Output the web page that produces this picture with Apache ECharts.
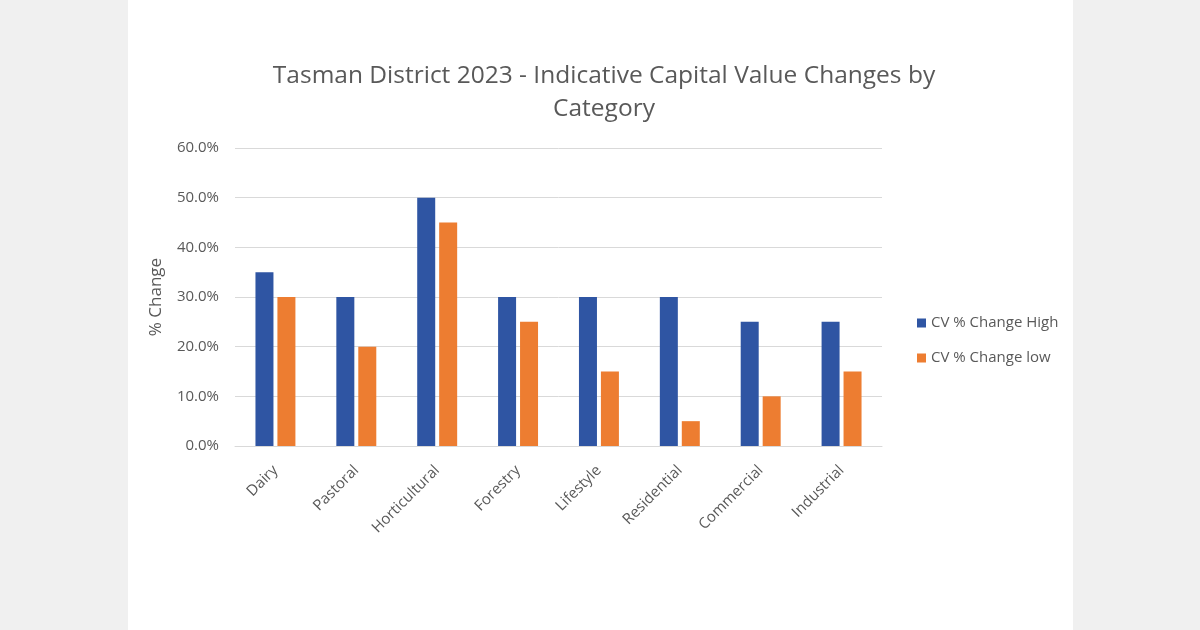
<!DOCTYPE html>
<html><head><meta charset="utf-8">
<script src="https://cdn.jsdelivr.net/npm/echarts@6/dist/echarts.min.js"></script>
<style>html,body{margin:0;padding:0;background:#f0f0f0}#c{width:1200px;height:630px}</style>
</head><body><div id="c"></div>
<script>
const categories = ['Dairy','Pastoral','Horticultural','Forestry','Lifestyle','Residential','Commercial','Industrial'];
const cvHigh = [35,30,50,30,30,30,25,25];
const cvLow = [30,20,45,25,15,5,10,15];
const seriesNames = ['CV % Change High','CV % Change low'];
const chart = echarts.init(document.getElementById('c'));
const font = '"Open Sans", "Noto Sans", sans-serif';
chart.setOption({
  backgroundColor: '#f0f0f0',
  animation: false,
  graphic: [{type:'rect', shape:{x:128,y:0,width:945,height:630}, style:{fill:'#ffffff'}, z:-10}],
  title: {
    text: 'Tasman District 2023 - Indicative Capital Value Changes by\nCategory',
    left: 599, textAlign: 'center', top: 55,
    textStyle: {fontFamily: font, fontSize: 24.5, fontWeight: 'normal', color: '#595959', lineHeight: 33}
  },
  legend: {
    orient: 'vertical', left: 912, top: 308, itemWidth: 9, itemHeight: 9, itemGap: 15,
    icon: 'rect',
    textStyle: {fontFamily: font, fontSize: 15, color: '#595959', lineHeight: 20},
    data: seriesNames
  },
  grid: {left: 235, right: 318, top: 148, bottom: 184, containLabel: false},
  xAxis: {
    type: 'category', data: categories,
    axisLine: {lineStyle: {color: '#d9d9d9', width: 1}},
    axisTick: {show: false},
    axisLabel: {rotate: 45, interval: 0, fontFamily: font, fontSize: 15, color: '#595959', margin: 22}
  },
  yAxis: {
    type: 'value', min: 0, max: 60, interval: 10,
    name: '% Change', nameLocation: 'middle', nameGap: 70, nameRotate: 90,
    nameTextStyle: {fontFamily: font, fontSize: 17, color: '#595959'},
    axisLine: {show: false}, axisTick: {show: false},
    splitLine: {lineStyle: {color: '#d9d9d9', width: 1}},
    axisLabel: {formatter: v => v.toFixed(1) + '%', fontFamily: font, fontSize: 15, color: '#595959', margin: 16}
  },
  series: [
    {name: seriesNames[0], type: 'bar', data: cvHigh, barWidth: 18, barGap: '22%', itemStyle: {color: '#2f55a3'}},
    {name: seriesNames[1], type: 'bar', data: cvLow, barWidth: 18, itemStyle: {color: '#ed7d31'}}
  ]
});
</script></body></html>
